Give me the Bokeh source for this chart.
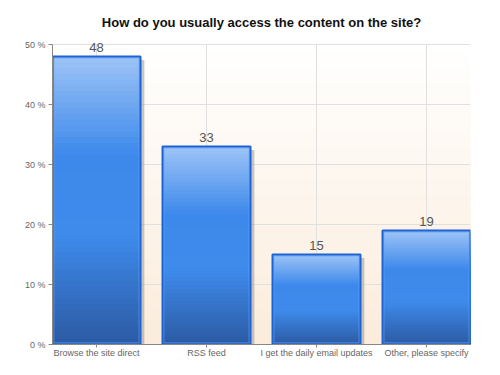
import numpy as np
from bokeh.plotting import figure
from bokeh.models import FixedTicker, ColumnDataSource, LabelSet
from bokeh.core.properties import value
from bokeh.embed import file_html
from bokeh.resources import INLINE

title = "How do you usually access the content on the site?"
categories = ["Browse the site direct", "RSS feed", "I get the daily email updates", "Other, please specify"]
values = [48, 33, 15, 19]
y_ticks = [0, 10, 20, 30, 40, 50]
y_tick_labels = ["0 %", "10 %", "20 %", "30 %", "40 %", "50 %"]
y_max = 50

x = list(range(len(categories)))
bar_w = 0.8

p = figure(width=492, height=367, output_backend="svg", toolbar_location=None,
           x_range=(-0.4, len(categories) - 0.6), y_range=(0, 51.5),
           min_border_left=52, min_border_right=22, min_border_top=35, min_border_bottom=23,
           title=title)
p.title.align = "center"
p.title.text_font = "Liberation Sans"
p.title.text_font_size = "13px"
p.title.text_color = "#111111"
p.title.offset = 0
p.title.standoff = 12
p.outline_line_color = None
p.background_fill_color = "#ffffff"

# background gradient (white top -> peach bottom), drawn as overlapping layers
nbg = 60
edges = np.linspace(0, y_max, nbg + 1)
top_c = np.array([255, 255, 255])
bot_c = np.array([251, 236, 219])
bg_tops, bg_cols = [], []
for i in range(nbg):
    top = edges[nbg - i]
    t = 1 - (edges[nbg - i] + edges[nbg - i - 1]) / 2 / y_max
    c = top_c + (bot_c - top_c) * t
    bg_tops.append(top)
    bg_cols.append("#%02x%02x%02x" % tuple(int(round(v)) for v in c))
p.quad(left=-0.4, right=len(categories) - 0.6, bottom=0, top=bg_tops,
       fill_color=bg_cols, line_color=None, level="underlay")

p.xgrid.grid_line_color = None
p.ygrid.grid_line_color = "#e0e0e0"
p.ygrid.level = "underlay"
p.ygrid.ticker = FixedTicker(ticks=y_ticks)
# vertical grid lines at category centres, limited to the axis range
p.segment(x0=x, x1=x, y0=0, y1=y_max, line_color="#e0e0e0", line_width=1, level="underlay")

# shadows
sx = 0.035
sy = 0.6
p.quad(left=[xi - bar_w / 2 + sx for xi in x], right=[xi + bar_w / 2 + sx for xi in x],
       bottom=[0 - sy] * len(x), top=[v - sy for v in values],
       fill_color="#9a9a9a", fill_alpha=0.55, line_color=None)

# bar gradient
stops = [(0.0, (158, 196, 246)), (0.34, (61, 137, 235)), (0.62, (63, 139, 236)), (1.0, (43, 90, 163))]
def grad(t):
    for (t0, c0), (t1, c1) in zip(stops[:-1], stops[1:]):
        if t <= t1:
            f = (t - t0) / (t1 - t0)
            return tuple(int(round(a + (b - a) * f)) for a, b in zip(c0, c1))
    return stops[-1][1]

ns = 50
L, R, T, C = [], [], [], []
for k in range(ns):
    for xi, v in zip(x, values):
        L.append(xi - bar_w / 2); R.append(xi + bar_w / 2)
        T.append(v * (1 - k / ns))
        C.append("#%02x%02x%02x" % grad((k + 0.5) / ns))
p.quad(left=L, right=R, bottom=0, top=T, fill_color=C, line_color=None)

# inner light border and outer dark border
ix = 0.012
iy = 0.25
p.quad(left=[xi - bar_w / 2 + ix for xi in x], right=[xi + bar_w / 2 - ix for xi in x],
       bottom=[iy] * len(x), top=[v - iy for v in values],
       fill_color=None, line_color="#6aa8f5", line_width=1, line_alpha=0.8)
p.quad(left=[xi - bar_w / 2 for xi in x], right=[xi + bar_w / 2 for xi in x],
       bottom=[0] * len(x), top=values,
       fill_color=None, line_color="#1c63d6", line_width=2)

# value labels
src = ColumnDataSource(dict(x=x, y=values, t=[str(v) for v in values]))
labels = LabelSet(x="x", y="y", text="t", source=src, text_align="center", text_baseline="bottom",
                  y_offset=5, text_font_size=value("13px"), text_color=value("#555555"),
                  text_font=value("Liberation Sans"))
p.add_layout(labels)

p.xaxis.ticker = FixedTicker(ticks=x)
p.xaxis.major_label_overrides = {i: c for i, c in enumerate(categories)}
p.yaxis.ticker = FixedTicker(ticks=y_ticks)
p.yaxis.major_label_overrides = {t: l for t, l in zip(y_ticks, y_tick_labels)}
p.yaxis.bounds = (0, y_max)
for ax in (p.xaxis, p.yaxis):
    ax.axis_line_color = "#888888"
    ax.major_tick_line_color = "#888888"
    ax.minor_tick_line_color = None
    ax.major_label_text_font = "Liberation Sans"
    ax.major_label_text_font_size = "9px"
    ax.major_label_text_color = "#666666"
    ax.major_tick_out = 4
    ax.major_tick_in = 0
p.xaxis.major_label_standoff = 0
p.xaxis.major_tick_out = 3
p.yaxis.major_label_standoff = 3

open("out.html", "w").write(file_html(p, INLINE))
